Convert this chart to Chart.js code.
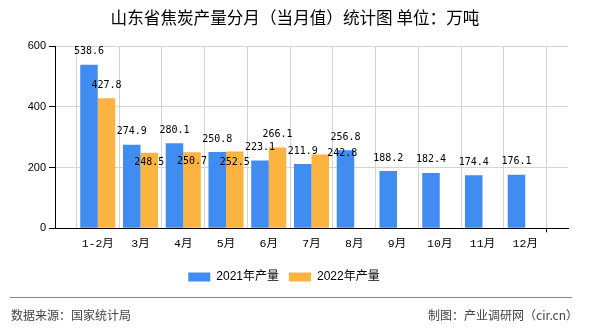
<!DOCTYPE html>
<html>
<head>
<meta charset="utf-8">
<script src="https://cdn.jsdelivr.net/npm/chart.js@4"></script>
<style>
  html, body { margin: 0; padding: 0; background: #fff; }
</style>
</head>
<body>
<canvas id="coke" width="590" height="330"></canvas>
<script>
var months = ["1-2月", "3月", "4月", "5月", "6月", "7月", "8月", "9月", "10月", "11月", "12月"];
var output2021 = [538.6, 274.9, 280.1, 250.8, 223.1, 211.9, 256.8, 188.2, 182.4, 174.4, 176.1];
var output2022 = [427.8, 248.5, 250.7, 252.5, 266.1, 242.8];
var yTicks = [0, 200, 400, 600];
var titleText = "山东省焦炭产量分月（当月值）统计图 单位：万吨";
var sourceText = "数据来源：国家统计局";
var madeByText = "制图：产业调研网（cir.cn）";

// the axis has an empty slot at each end
var labels = [""].concat(months, [""]);
function pad(arr) {
  var out = [null].concat(arr);
  while (out.length < labels.length) out.push(null);
  return out;
}

// nudges [dx, dy] for value labels that collide
var labelNudge = [
  [],
  [[0, 0], [0, 23], [0, 22], [0, 24], [0, 0], [22, 12]]
];

var valueLabels = {
  id: "valueLabels",
  afterDatasetsDraw: function (chart) {
    var ctx = chart.ctx;
    ctx.save();
    ctx.font = '10px "DejaVu Sans Mono", monospace';
    ctx.fillStyle = "#000";
    ctx.textAlign = "center";
    ctx.textBaseline = "middle";
    chart.data.datasets.forEach(function (ds, di) {
      var meta = chart.getDatasetMeta(di);
      meta.data.forEach(function (bar, i) {
        var v = ds.data[i];
        if (v == null) return;
        var n = (labelNudge[di] && labelNudge[di][i - 1]) || [0, 0];
        ctx.fillText(v.toFixed(1), bar.x + n[0], bar.y - 13 + n[1]);
      });
    });
    ctx.restore();
  }
};

// title on top, source line at the bottom
var frame = {
  id: "frame",
  afterDraw: function (chart) {
    var ctx = chart.ctx;
    ctx.save();
    ctx.font = '16.6px "Noto Sans CJK SC", sans-serif';
    ctx.fillStyle = "#000";
    ctx.textAlign = "center";
    ctx.textBaseline = "middle";
    ctx.fillText(titleText, 295, 17.5);

    ctx.strokeStyle = "#888";
    ctx.lineWidth = 1;
    ctx.beginPath();
    ctx.moveTo(10, 297.5);
    ctx.lineTo(572, 297.5);
    ctx.stroke();
    ctx.font = '12px "Noto Sans CJK SC", sans-serif';
    ctx.fillStyle = "#444";
    ctx.textAlign = "left";
    ctx.fillText(sourceText, 11, 315);
    ctx.textAlign = "right";
    ctx.fillText(madeByText, 578, 315);
    ctx.restore();
  }
};

new Chart(document.getElementById("coke"), {
  type: "bar",
  data: {
    labels: labels,
    datasets: [
      {
        label: "2021年产量",
        backgroundColor: "#418cf0",
        data: pad(output2021)
      },
      {
        label: "2022年产量",
        backgroundColor: "#fcb441",
        data: pad(output2022)
      }
    ]
  },
  options: {
    responsive: false,
    animation: false,
    devicePixelRatio: 1,
    categoryPercentage: 0.82,
    barPercentage: 1,
    layout: { padding: { top: 46, left: 0, right: 22, bottom: 37 } },
    plugins: {
      legend: {
        position: "bottom",
        labels: {
          boxWidth: 22,
          boxHeight: 9,
          padding: 10,
          color: "#000",
          font: { family: '"Liberation Sans", "Noto Sans CJK SC", sans-serif', size: 12 }
        }
      },
      tooltip: { enabled: false }
    },
    scales: {
      x: {
        offset: false,
        grid: {
          color: "#d3d3d3",
          tickLength: 4,
          tickColor: function (c) {
            return (c.index === 0 || c.index === labels.length - 1) ? "#000" : "rgba(0,0,0,0)";
          }
        },
        border: { color: "#000" },
        ticks: {
          autoSkip: false,
          maxRotation: 0,
          padding: 5,
          color: "#000",
          font: { family: '"Liberation Mono", "Noto Sans CJK SC", monospace', size: 11.5 }
        },
        afterFit: function (s) { s.height = 32.7; }
      },
      y: {
        min: 0,
        max: 600,
        grid: { color: "#d3d3d3", tickLength: 6, tickColor: "#000" },
        border: { color: "#000" },
        ticks: {
          padding: 3,
          color: "#000",
          font: { family: '"Liberation Sans", sans-serif', size: 11 }
        },
        afterBuildTicks: function (s) {
          s.ticks = yTicks.map(function (v) { return { value: v }; });
        },
        afterFit: function (s) { s.width = 55; }
      }
    }
  },
  plugins: [valueLabels, frame]
});
</script>
</body>
</html>
